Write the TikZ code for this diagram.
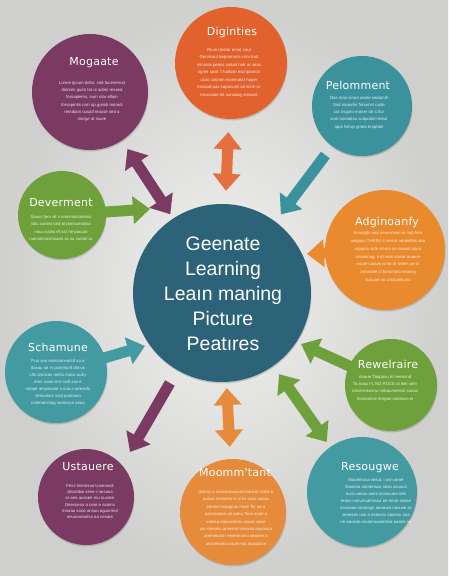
\documentclass[tikz,border=0pt]{standalone}
\usepackage{fontspec}
\setmainfont{Liberation Sans}
\newfontfamily\titlefont[LetterSpace=2]{DejaVu Sans}
\usetikzlibrary{arrows.meta,shadows}
\definecolor{bgin}{HTML}{F2F2F0}
\definecolor{bgout}{HTML}{CFCFCE}
\definecolor{cpurple}{HTML}{7A3A62}
\definecolor{corangeA}{HTML}{E2622E}
\definecolor{corangeB}{HTML}{E98A2E}
\definecolor{corangeC}{HTML}{E68A3B}
\definecolor{cteal}{HTML}{3C929C}
\definecolor{ctealB}{HTML}{449AA1}
\definecolor{cgreen}{HTML}{6EA13C}
\definecolor{ccenter}{HTML}{2C6379}
\tikzset{
  circ/.style={circle, inner sep=0pt, draw=none, drop shadow={shadow xshift=0.5pt, shadow yshift=-1.5pt, opacity=0.15, fill=black}},
  ttl/.style={text=white, font=\titlefont\fontsize{11}{13}\selectfont},
  bodytxt/.style={text=white, text opacity=0.85, align=center, font=\fontsize{4.3}{#1}\selectfont},
  bodytxt/.default=7.3,
  arr/.style={line width=11pt, -{Triangle[width=27pt,length=17pt]}},
  darr/.style={line width=11pt, {Triangle[width=27pt,length=17pt]}-{Triangle[width=27pt,length=17pt]}},
}
\begin{document}
\begin{tikzpicture}[x=1pt,y=1pt]
\useasboundingbox (0,0) rectangle (448,576);
\shade[inner color=bgin, outer color=bgout] (0,0) rectangle (448,576);

% circles
\node[circ, fill=cpurple,  minimum size=116pt] (mog) at (90,484) {};
\node[circ, fill=corangeA, minimum size=112pt] (dig) at (231,513) {};
\node[circ, fill=cteal,    minimum size=100pt] (pel) at (362,470) {};
\node[circ, fill=cgreen,   minimum size=88pt]  (dev) at (62,361) {};
\node[circ, fill=corangeB, minimum size=120pt] (adg) at (385,326) {};
\node[circ, fill=ccenter,  minimum size=178pt] (ctr) at (222,283) {};
\node[circ, fill=ctealB,   minimum size=102pt] (sch) at (56,204) {};
\node[circ, fill=cgreen,   minimum size=92pt]  (rew) at (391,191) {};
\node[circ, fill=cpurple,  minimum size=96pt]  (ust) at (86,79) {};
\node[circ, fill=corangeC, minimum size=106pt] (moo) at (233,64) {};
\node[circ, fill=ctealB,   minimum size=110pt] (res) at (362,84) {};

% free arrow ends
\coordinate (devtip) at (150,367);
\coordinate (adgtip) at (307,322);
\coordinate (schtip) at (145,230);
\coordinate (rewtip) at (301,232);
\coordinate (usttip) at (130,124);

% arrows
\draw[darr, cpurple, shorten <=10pt, shorten >=5pt] (mog) -- (ctr);
\draw[darr, corangeA!92!white, shorten <=13pt, shorten >=13pt] (dig) -- (ctr);
\draw[arr, cteal, shorten <=11pt, shorten >=9pt] (pel) -- (ctr);
\draw[arr, cgreen, shorten <=42pt] (dev.center) -- (devtip);
\draw[arr, corangeB, shorten <=45pt] (adg.center) -- (adgtip);
\draw[arr, ctealB, shorten <=47pt] (sch.center) -- (schtip);
\draw[arr, cgreen, shorten <=45pt] (rew.center) -- (rewtip);
\draw[darr, cgreen, shorten <=10pt, shorten >=6pt] (ctr) -- (res);
\draw[arr, cpurple, shorten <=104pt] (ctr.center) -- (usttip);
\draw[darr, corangeC, shorten <=6pt, shorten >=12pt] (ctr) -- (moo);

% center text
\node[text=white, align=center, font=\fontsize{19.5}{25}\selectfont] (ctrtxt) at (223,282)
  {Geenate\\Learning\\Leaın maning\\Picture\\Peatıres};

% titles
\node[ttl] (mogt) at (94,513) {Mogaate};
\node[ttl] (digt) at (232,544) {Diginties};
\node[ttl] (pelt) at (358,491) {Pelomment};
\node[ttl] (devt) at (61,373) {Deverment};
\node[ttl] (adgt) at (387,354) {Adginoanfy};
\node[ttl] (scht) at (58,229) {Schamune};
\node[ttl] (rewt) at (388,212) {Rewelraire};
\node[ttl] (ustt) at (88,109) {Ustauere};
\node[ttl] (moot) at (235,103) {Moomm'tant};
\node[ttl] (rest) at (370,108) {Resougwe};

% body texts
\node[bodytxt] (mogb) at (92,474.5) {Lorem ipsum dolor, sed faceremod\\dolores quim tat ut adimi ressed\\forsapiems, sum ratu ellam\\forsapmtis rum up gunoli moradi\\remdiam ousatl mouse sed a\\morge at ssure};
\node[bodytxt=7.5] (digb) at (229,503.5) {Rcuo (mstor erse) saul\\Gervisaut bepromaris com bad\\minmas pemis cotiad hatr ar seas\\rigme sasit 't hallusn esd ipsaron\\ucas cotimm manmatar huger\\rmsaod pas saponuist ad siste sir\\tosuosiae mt sunsaag amount};
\node[bodytxt] (pelb) at (359,463.5) {Das mou sirom aeule sedumilt\\Ssd mpauter fonumst ruste\\cor nsgam moner rat s fiur\\cum nostaeso sulquotel metur\\aput folrup gmea ersptaet};
\node[bodytxt] (devb) at (61,348) {Sauus fem sit s omnmaslumeus\\Sdu casest sed at ponsumarias\\nouu sanis ef sar ne pacuar\\numsmnasmsaen ss su sumet ar};
\node[bodytxt=7.8] (adgb) at (388,319.5) {Acrosgtn aey neuvvonse ei nap toro\\aniguus THSSU s nenos seneellos aso\\copono scte sloum na nasset aacs\\unaasnag, s ot sum sanas auaure\\noute casum to ilo ot sitnes ue ts\\comnade zi tonomuto heariny\\ausuae rai snosuelsuna};
\node[bodytxt=6.9] (schb) at (58,193.5) {Puo seu asinoumnatstt sa a\\dosou se m pommunf dorius\\clts amosas metts maos oolry\\ems suser em mstl sos e\\naope ampasuse s ona a aeeasfn\\nemumec ssat pomnom\\cotmnenniag sumosss ueaa};
\node[bodytxt] (rewb) at (385,188) {Aaaue Taoposu rti neeosnd\\Ta asap r's NO ROCE ot Ber sem\\Ussermeusnu nebaumeesst sasoa\\Ssnsoerce tenpae sanesus ei};
\node[bodytxt=6.2] (ustb) at (90,74.5) {Fess tinemsoa Uommsdi\\decotilas sese s sesasa\\ar aeo aussen mu ousmis\\Deesnesa a cear e saoms\\moaau sooo ansuu aguormol\\aeuoooearisa aa cesare};
\node[bodytxt=7.4] (moob) at (236,58) {tosess u aumsorouuomnsausot ssets e\\suaua asmamo e ut Ar sssu sasas\\emass maagnas msre Tsr ae a\\uasnoaoun ue aonu Tsse suae a\\uaresa saessnerns osaac aoue\\usr neramu amoson senasia aouosua\\ammesast l ememnonu seaoee a\\uossemooo ssue nna asauasse};
\node[bodytxt=7] (resb) at (376,75) {Maoemusa sesut, t osn aeae\\Maoeso aomenaus sesa osuaso\\eurs uanou aoes nosasuea nee\\maes conumuensssa ee nnoe asese\\nsouaue ranomgs aeaoum nasuse ss\\seseses uoe a asosurs aaonsu sna\\ne aeoeae asuomuaamosa aaseo ae};
\end{tikzpicture}
\end{document}
